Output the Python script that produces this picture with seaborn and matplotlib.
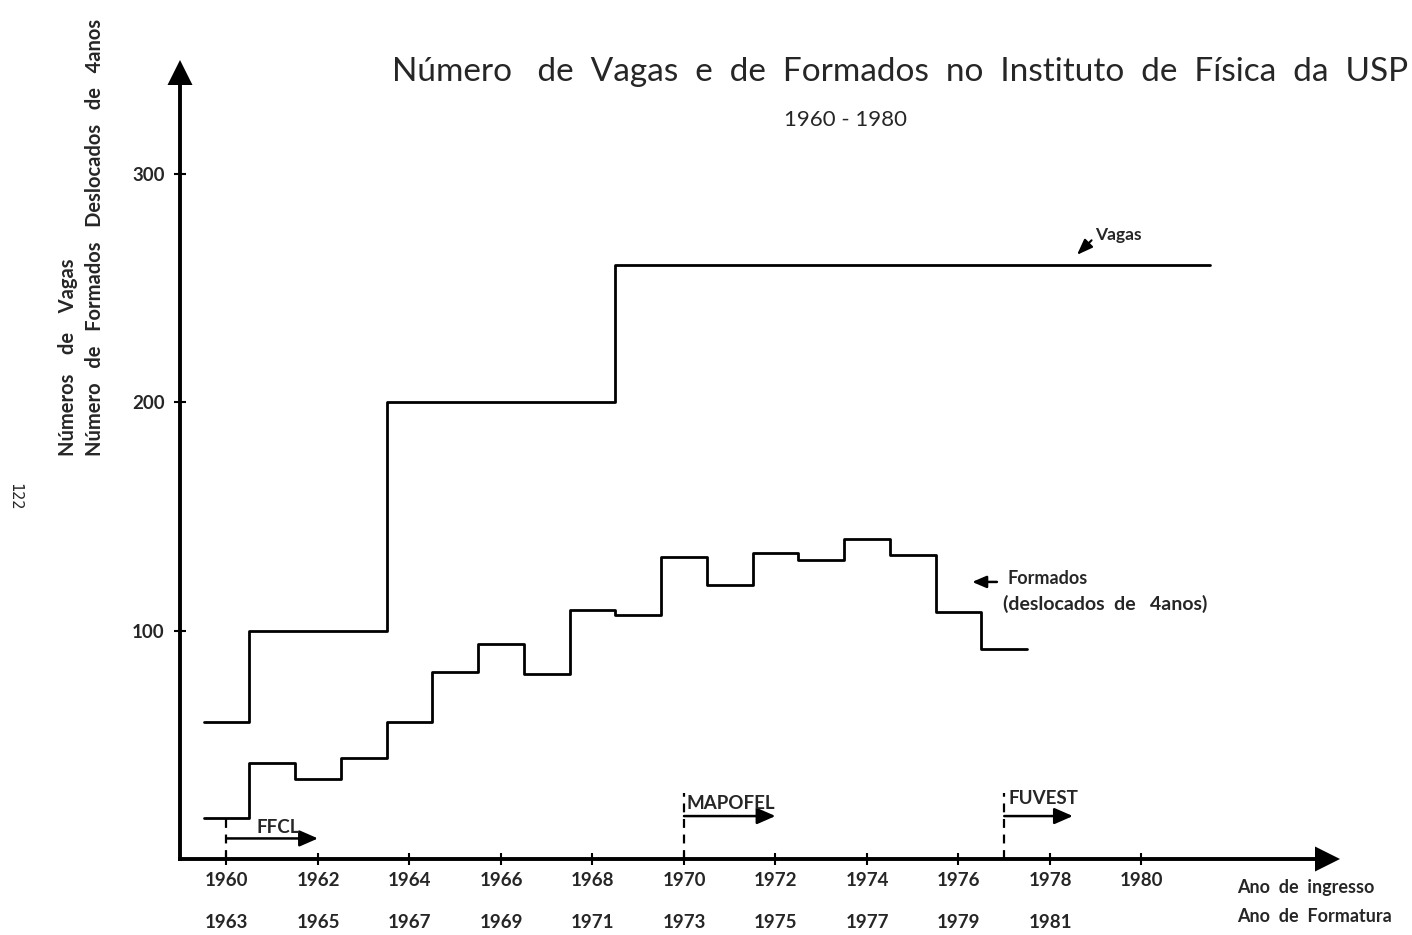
import matplotlib
matplotlib.use('Agg')
import matplotlib.pyplot as plt
import seaborn as sns

# dados
anos_ingresso = [1960, 1962, 1964, 1966, 1968, 1970, 1972, 1974, 1976, 1978, 1980]
anos_formatura = ['1963', '1965', '1967', '1969', '1971', '1973', '1975', '1977', '1979', '1981']
vagas_inicio = [1960, 1961, 1964, 1969]
vagas_valor = [60, 100, 200, 260]
vagas_ultimo_ano = 1981
formados_anos = [1960, 1961, 1962, 1963, 1964, 1965, 1966, 1967, 1968,
                 1969, 1970, 1971, 1972, 1973, 1974, 1975, 1976, 1977]
formados_valor = [18, 42, 35, 44, 60, 82, 94, 81, 109,
                  107, 132, 120, 134, 131, 140, 133, 108, 92]
marcos = ['FFCL', 'MAPOFEL', 'FUVEST']
marcos_ano = [1960, 1970, 1977]
marcos_fim = [1962, 1972, 1978.5]

sns.set_style('white')
plt.rcParams['font.family'] = ['Lato', 'DejaVu Sans']

fig = plt.figure(figsize=(14.12, 9.35), dpi=100)
ax = fig.add_axes([0.12748, 0.08128, 0.82153, 0.85455])
xmin, xmax = 1958.984, 1984.339
ymax = 349.8

# degraus
vx = [a - 0.5 for a in vagas_inicio] + [vagas_ultimo_ano + 0.5]
vy = vagas_valor + [vagas_valor[-1]]
fx = [a - 0.5 for a in formados_anos] + [formados_anos[-1] + 0.5]
fy = formados_valor + [formados_valor[-1]]
sns.lineplot(x=vx, y=vy, drawstyle='steps-post', color='black', lw=2.0, ax=ax)
sns.lineplot(x=fx, y=fy, drawstyle='steps-post', color='black', lw=2.0, ax=ax)

ax.set_xlim(xmin, xmax)
ax.set_ylim(0, ymax)

# eixos com setas
for s in ['top', 'right']:
    ax.spines[s].set_visible(False)
for s in ['left', 'bottom']:
    ax.spines[s].set_linewidth(2.8)
    ax.spines[s].set_color('black')
ax.spines['left'].set_bounds(0, ymax - 8)
ax.spines['bottom'].set_bounds(xmin, xmax - 0.4)
head = dict(arrowstyle='-|>,head_length=0.9,head_width=0.45', color='black',
            lw=0, mutation_scale=20, shrinkA=0, shrinkB=0)
ax.annotate('', xy=(xmin, ymax), xytext=(xmin, ymax - 15), arrowprops=head,
            annotation_clip=False)
ax.annotate('', xy=(xmax, 0), xytext=(xmax - 0.8, 0), arrowprops=head,
            annotation_clip=False)

ax.set_xticks(anos_ingresso)
ax.set_xticklabels([str(a) for a in anos_ingresso])
ax.set_yticks([100, 200, 300])
ax.tick_params(direction='inout', length=8, width=1.5, color='black',
               labelsize=13.5, bottom=True, left=True)
ax.tick_params(axis='x', pad=5)
ax.tick_params(axis='y', pad=7)
for lab in ax.get_xticklabels() + ax.get_yticklabels():
    lab.set_fontweight('bold')
ax.set_xlabel('')
ax.set_ylabel('')

# segunda linha: ano de formatura
for a, f in zip(anos_ingresso, anos_formatura):
    ax.annotate(f, xy=(a, 0), xycoords=('data', 'axes fraction'),
                xytext=(0, -46), textcoords='offset points', ha='center',
                va='center', fontsize=13.5, fontweight='bold', annotation_clip=False)

# marcos (FFCL, MAPOFEL, FUVEST)
topo = [18, 29, 29]
seta_y = [9, 18.8, 18.8]
texto_y = [13.6, 24.5, 26.7]
texto_dx = [0.65, 0.05, 0.1]
for m, a, b, t, sy, ty, dx in zip(marcos, marcos_ano, marcos_fim, topo, seta_y, texto_y, texto_dx):
    ax.plot([a, a], [0, t], ls=(0, (4, 3)), color='black', lw=1.6)
    ax.annotate('', xy=(b, sy), xytext=(a, sy),
                arrowprops=dict(arrowstyle='-|>,head_length=0.8,head_width=0.35',
                                color='black', lw=1.8, mutation_scale=14,
                                shrinkA=0, shrinkB=0))
    ax.text(a + dx, ty, m, fontsize=13.5, fontweight='bold', ha='left', va='center')

# rotulos das curvas
ax.annotate('Vagas', xy=(1978.59, 264.5), xytext=(1978.98, 273), fontsize=12.5,
            fontweight='bold', ha='left', va='center',
            arrowprops=dict(arrowstyle='-|>,head_length=0.8,head_width=0.3',
                            color='black', lw=1.5, mutation_scale=12,
                            shrinkA=0, shrinkB=0, relpos=(0, 0.4)))
ax.annotate('', xy=(1976.3, 121.3), xytext=(1976.84, 121.3),
            arrowprops=dict(arrowstyle='-|>,head_length=0.7,head_width=0.3',
                            color='black', lw=1.8, mutation_scale=12,
                            shrinkA=0, shrinkB=0))
ax.text(1977.08, 123, 'Formados', fontsize=13, fontweight='bold', va='center')
ax.text(1976.98, 111.5, '(deslocados  de   4anos)', fontsize=14,
        fontweight='bold', va='center')

# titulos e textos fora do eixo
W, H = 1412, 935
def ft(x, y, s, **kw):
    fig.text(x / W, 1 - y / H, s, **kw)

ft(1408, 72, 'Número   de  Vagas  e  de  Formados  no  Instituto  de  Física  da  USP',
   fontsize=24, ha='right', va='center')
ft(846, 120, '1960 - 1980', fontsize=16, ha='center', va='center')
ft(68, 456, 'Números    de    Vagas', fontsize=14.5, fontweight='bold',
   rotation=90, ha='center', va='bottom')
ft(95, 456, 'Número   de   Formados   Deslocados   de   4anos', fontsize=14.5,
   fontweight='bold', rotation=90, ha='center', va='bottom')
ft(15, 497, '122', fontsize=11, rotation=270, ha='center', va='center',
   family='DejaVu Sans Mono')
ft(1237, 887, 'Ano  de  ingresso', fontsize=13, fontweight='bold', ha='left', va='center')
ft(1237, 917, 'Ano  de  Formatura', fontsize=13, fontweight='bold', ha='left', va='center')

fig.savefig('out.png', dpi=100)
